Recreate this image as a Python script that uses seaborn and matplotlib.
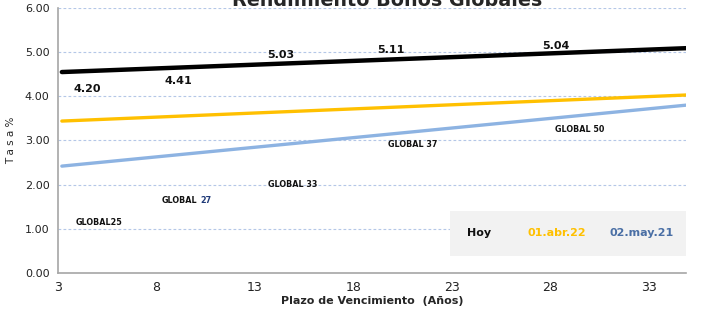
import numpy as np
import pandas as pd
import matplotlib
matplotlib.use("Agg")
import matplotlib.pyplot as plt
import seaborn as sns
from matplotlib.patches import Rectangle

sns.set_style("white")
plt.rcParams['font.family'] = ['DejaVu Sans']

# trend lines (start / end of each curve)
plazo = [3.2, 34.9]
hoy = [4.55, 5.09]
abr22 = [3.44, 4.03]
may21 = [2.42, 3.80]

# data labels of today's yields
lbl_x = [4.5, 9.1, 14.3, 19.9, 28.3]
lbl_y = [4.16, 4.34, 4.93, 5.05, 5.14]
lbl_txt = ["4.20", "4.41", "5.03", "5.11", "5.04"]

# bond names (GLOBAL 27 is drawn in two parts below)
bono_x = [5.1, 14.9, 21.0, 29.5]
bono_y = [1.15, 2.01, 2.90, 3.26]
bono_txt = ["GLOBAL25", "GLOBAL 33", "GLOBAL 37", "GLOBAL 50"]

x_ticks = [3, 8, 13, 18, 23, 28, 33]
y_ticks = [0, 1, 2, 3, 4, 5, 6]

df = pd.DataFrame({"Plazo": plazo * 3,
                   "Tasa": hoy + abr22 + may21,
                   "Serie": ["Hoy"] * 2 + ["01.abr.22"] * 2 + ["02.may.21"] * 2})

colors = {"Hoy": "#000000", "01.abr.22": "#FFC000", "02.may.21": "#8DB3E2"}
widths = {"Hoy": 3.2, "01.abr.22": 2.4, "02.may.21": 2.4}

fig = plt.figure(figsize=(7.24, 3.14), dpi=100)
ax = fig.add_axes([0.080, 0.1306, 0.8675, 0.8439])

for s in ["02.may.21", "01.abr.22", "Hoy"]:
    d = df[df["Serie"] == s]
    sns.lineplot(data=d, x="Plazo", y="Tasa", color=colors[s], linewidth=widths[s], ax=ax, legend=False)

for x, y, t in zip(lbl_x, lbl_y, lbl_txt):
    ax.text(x, y, t, fontsize=8, fontweight="bold", ha="center", va="center", color="#111111")

for x, y, t in zip(bono_x, bono_y, bono_txt):
    ax.text(x, y, t, fontsize=5.8, fontweight="bold", ha="center", va="center", color="#111111")
ax.text(10.1, 1.65, "GLOBAL", fontsize=5.8, fontweight="bold", ha="right", va="center", color="#111111")
ax.text(10.25, 1.65, "27", fontsize=5.8, fontweight="bold", ha="left", va="center", color="#1F3A78")

ax.set_xlim(3, 34.9)
ax.set_ylim(0, 6)
ax.set_xticks(x_ticks)
ax.set_yticks(y_ticks)
ax.set_yticklabels([f"{v:.2f}" for v in y_ticks], fontsize=8, color="#222222")
ax.set_xticklabels([str(v) for v in x_ticks], fontsize=9, color="#222222")
ax.tick_params(axis="both", length=0, pad=6)
ax.yaxis.grid(True, color="#B4C7E7", linestyle=(0, (2.5, 2)), linewidth=0.8)
ax.set_axisbelow(True)
for sp in ["top", "right"]:
    ax.spines[sp].set_visible(False)
for sp in ["left", "bottom"]:
    ax.spines[sp].set_color("#A6A6A6")
    ax.spines[sp].set_linewidth(1.2)

ax.set_xlabel("Plazo de Vencimiento  (Años)", fontsize=8, fontweight="bold", labelpad=1)
ax.set_ylabel("T a s a %", fontsize=7.5, labelpad=6)

# legend box
ax.add_patch(Rectangle((0.625, 0.065), 0.375, 0.17, transform=ax.transAxes,
                       facecolor="#F2F2F2", edgecolor="none", zorder=3))
ax.text(0.67, 0.15, "Hoy", transform=ax.transAxes, fontsize=8, fontweight="bold",
        color="#111111", ha="center", va="center", zorder=4)
ax.text(0.795, 0.15, "01.abr.22", transform=ax.transAxes, fontsize=8, fontweight="bold",
        color="#FFC000", ha="center", va="center", zorder=4)
ax.text(0.93, 0.15, "02.may.21", transform=ax.transAxes, fontsize=8, fontweight="bold",
        color="#4A6FA5", ha="center", va="center", zorder=4)

# title is partly cut at the top edge, as in the source image
fig.text(0.535, 1.0, "Rendimiento Bonos Globales", fontsize=13.8, fontweight="bold",
         ha="center", va="center")

fig.savefig("out.png", dpi=100)
